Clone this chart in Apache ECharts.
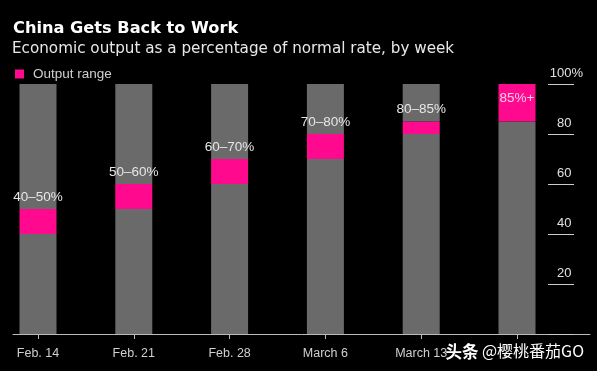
<!DOCTYPE html>
<html><head><meta charset="utf-8">
<script src="https://cdn.jsdelivr.net/npm/echarts@6/dist/echarts.min.js"></script>
<style>html,body{margin:0;padding:0;background:#000}#c{width:597px;height:371px}</style>
</head><body><div id="c"></div>
<script>
var categories = ['Feb. 14','Feb. 21','Feb. 28','March 6','March 13',''];
var lowValues = [40,50,60,70,80,85];
var highValues = [50,60,70,80,85,100];
var rangeLabels = ['40–50%','50–60%','60–70%','70–80%','80–85%','85%+'];
var yTickLabels = {20:'20', 40:'40', 60:'60', 80:'80', 100:'100'};

var FONT = '"Liberation Sans", Arial, sans-serif';
var GRAY = '#6a6a6a', PINK = '#ff0a8e';
var pinkData = highValues.map(function(h,i){
  var item = {value: h - lowValues[i]};
  if (i === highValues.length - 1) {
    item.label = {position:'insideTop', distance:7, color:'#f6cfe4'};
  }
  return item;
});
var chart = echarts.init(document.getElementById('c'), null, {renderer:'canvas'});
chart.setOption({
  backgroundColor:'#000',
  animation:false,
  title:[
    {text:'China Gets Back to Work', left:8, top:16,
     textStyle:{color:'#fff', fontSize:16.2, fontWeight:'bold', fontFamily:'"DejaVu Sans", sans-serif'}},
    {text:'Economic output as a percentage of normal rate, by week', left:7, top:37,
     textStyle:{color:'#e8e8e8', fontSize:15.2, fontWeight:'normal', fontFamily:'"DejaVu Sans", sans-serif'}}
  ],
  legend:{left:10, top:62, itemWidth:9, itemHeight:9, itemGap:10,
    data:[{name:'Output range', icon:'rect'}],
    textStyle:{color:'#d0d0d0', fontSize:13.5, fontFamily:FONT, padding:[0,0,0,4]}},
  grid:[
    {left:38, right:80, top:84, bottom:37},
    {left:13, right:7, top:84, bottom:37}
  ],
  xAxis:[
    {type:'category', gridIndex:0, data:categories, boundaryGap:false,
     axisLine:{show:false},
     axisTick:{show:true, length:5, lineStyle:{color:'#bbb'}},
     axisLabel:{color:'#d0d0d0', fontSize:12.5, fontFamily:FONT, margin:13}},
    {type:'value', gridIndex:1, min:0, max:1,
     axisLine:{show:true, lineStyle:{color:'#bbb', width:1}},
     axisTick:{show:false}, axisLabel:{show:false}, splitLine:{show:false}}
  ],
  yAxis:[
    {type:'value', gridIndex:0, position:'right', offset:31, min:0, max:100, interval:20,
     axisLine:{show:false},
     axisTick:{show:true, length:26, lineStyle:{color:'#ccc', width:1}},
     splitLine:{show:false},
     axisLabel:{color:'#e0e0e0', fontSize:13, fontFamily:FONT, align:'right', margin:35,
       verticalAlign:'bottom', padding:[0,0,4,0],
       formatter:function(v){
         if (!yTickLabels[v]) return '';
         return yTickLabels[v] + (v === 100 ? '{p|%}' : '{h|%}');
       },
       rich:{p:{color:'#e0e0e0', fontSize:13, fontFamily:FONT},
             h:{color:'rgba(0,0,0,0)', fontSize:13, fontFamily:FONT}}}},
    {type:'value', gridIndex:1, min:0, max:100, show:false}
  ],
  series:[
    {name:'base', type:'bar', stack:'s', xAxisIndex:0, yAxisIndex:0, barWidth:37,
     itemStyle:{color:GRAY}, data:lowValues, silent:true},
    {name:'Output range', type:'bar', stack:'s', xAxisIndex:0, yAxisIndex:0, barWidth:37,
     itemStyle:{color:PINK}, data:pinkData,
     label:{show:true, position:'top', distance:5, color:'#e6e6e6', fontSize:13.5, fontFamily:FONT,
       formatter:function(p){ return rangeLabels[p.dataIndex]; }}},
    {name:'rest', type:'bar', stack:'s', xAxisIndex:0, yAxisIndex:0, barWidth:37,
     itemStyle:{color:GRAY}, data:highValues.map(function(h){return 100-h;}), silent:true}
  ],
  graphic:[
    {type:'text', right:13, top:343, z:100,
     style:{text:'{b|头条} @樱桃番茄GO', fill:'#fff', font:'16px "Noto Sans CJK SC", sans-serif',
       rich:{b:{fontWeight:'bold', fontSize:16.5, fontFamily:'"Noto Sans CJK SC", sans-serif', fill:'#fff'}}}}
  ]
});
</script></body></html>
